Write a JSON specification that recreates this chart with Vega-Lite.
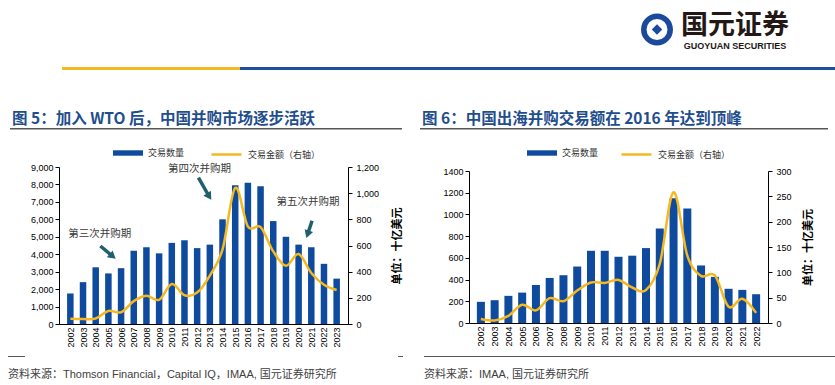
{
  "$schema": "https://vega.github.io/schema/vega-lite/v6.json",
  "padding": 0,
  "background": "white",
  "bounds": "full",
  "spacing": 0,
  "resolve": {"scale": {"fill": "independent", "stroke": "independent"}, "legend": {"fill": "independent", "stroke": "independent"}},
  "config": {
    "view": {"stroke": null},
    "font": "Liberation Sans",
    "axis": {"domainColor": "#000", "tickColor": "#000", "labelColor": "#000", "labelFont": "Liberation Sans", "labelFontSize": 9, "tickSize": 4, "grid": false, "domainWidth": 1, "tickWidth": 1}
  },
  "vconcat": [
    {
      "hconcat": [
        {"width": 637, "height": 67, "data": {"values": []}, "mark": "rule", "encoding": {}},
        {"width": 40, "height": 59, "data": {"values": [{"k": 1}]}, "layer": [
          {"mark": {"type": "point", "shape": "circle", "size": 700, "filled": false, "stroke": "#1B4A9C", "strokeWidth": 5.5, "opacity": 1}, "encoding": {}},
          {"mark": {"type": "point", "shape": "diamond", "size": 110, "filled": true, "color": "#1B4A9C", "opacity": 1}, "encoding": {}}
        ]},
        {"width": 116, "height": 59, "layer": [
          {"data": {"values": [{"t": "国元证券"}]}, "mark": {"type": "text", "font": "Noto Sans CJK SC", "fontSize": 27, "fontWeight": "bold", "color": "#231815", "dy": -3.5, "baseline": "middle", "align": "center"}, "encoding": {"text": {"field": "t"}}},
          {"data": {"values": [{"t": "GUOYUAN SECURITIES"}]}, "mark": {"type": "text", "font": "Liberation Sans", "fontSize": 9, "fontWeight": "bold", "color": "#231815", "dy": 16, "baseline": "middle", "align": "center"}, "encoding": {"text": {"field": "t"}}}
        ]}
      ],
      "bounds": "flush", "spacing": 0
    },
    {
      "hconcat": [
        {"width": 62, "height": 3, "data": {"values": []}, "mark": "rule", "encoding": {}},
        {"width": 178, "height": 3, "data": {"values": []}, "mark": "rule", "encoding": {}, "view": {"fill": "#F2B823"}},
        {"width": 595, "height": 3, "data": {"values": []}, "mark": "rule", "encoding": {}, "view": {"fill": "#1C4F9C"}}
      ],
      "bounds": "flush", "spacing": 0
    },
    {"width": 835, "height": 41, "data": {"values": []}, "mark": "rule", "encoding": {}},
    {
      "hconcat": [
        {"width": 10, "height": 1.5, "data": {"values": []}, "mark": "rule", "encoding": {}},
        {"width": 392, "height": 1.5, "data": {"values": []}, "mark": "rule", "encoding": {}, "view": {"fill": "#555555"},
         "title": {"text": "图 5：加入 WTO 后，中国并购市场逐步活跃", "anchor": "start", "frame": "group", "offset": 1, "dx": 2, "font": "Noto Sans CJK SC", "fontSize": 15.5, "fontWeight": "bold", "color": "#1F4E8D"}},
        {"width": 18, "height": 1.5, "data": {"values": []}, "mark": "rule", "encoding": {}},
        {"width": 408, "height": 1.5, "data": {"values": []}, "mark": "rule", "encoding": {}, "view": {"fill": "#555555"},
         "title": {"text": "图 6：中国出海并购交易额在 2016 年达到顶峰", "anchor": "start", "frame": "group", "offset": 1, "dx": 2, "font": "Noto Sans CJK SC", "fontSize": 15.5, "fontWeight": "bold", "color": "#1F4E8D"}}
      ],
      "bounds": "flush", "spacing": 0
    },
    {"width": 835, "height": 7.5, "data": {"values": []}, "mark": "rule", "encoding": {}},
    {
      "hconcat": [
        {"width": 59, "height": 157, "data": {"values": []}, "mark": "rule", "encoding": {}},
        {
          "width": 289, "height": 157,
          "encoding": {
            "x": {"field": "year", "type": "quantitative", "scale": {"domain": [2001.5, 2023.5], "nice": false, "zero": false},
                  "axis": {"values": [2002,2003,2004,2005,2006,2007,2008,2009,2010,2011,2012,2013,2014,2015,2016,2017,2018,2019,2020,2021,2022,2023], "format": "d", "labelAngle": -90, "labelAlign": "right", "labelBaseline": "middle", "ticks": false, "labelPadding": 3, "title": null, "labelFlush": false, "labelOverlap": false}}
          },
          "layer": [
            {
              "encoding": {"y": {"field": "n", "type": "quantitative", "scale": {"domain": [0, 9000], "nice": false}, "axis": {"values": [0,1000,2000,3000,4000,5000,6000,7000,8000,9000], "format": ",d", "title": null, "labelPadding": 2}}},
              "layer": [
                {
                  "data": {"values": [
                    {"year": 2002, "n": 1750}, {"year": 2003, "n": 2400}, {"year": 2004, "n": 3250}, {"year": 2005, "n": 2900},
                    {"year": 2006, "n": 3200}, {"year": 2007, "n": 4200}, {"year": 2008, "n": 4400}, {"year": 2009, "n": 4050},
                    {"year": 2010, "n": 4650}, {"year": 2011, "n": 4800}, {"year": 2012, "n": 4350}, {"year": 2013, "n": 4550},
                    {"year": 2014, "n": 6000}, {"year": 2015, "n": 7950}, {"year": 2016, "n": 8100}, {"year": 2017, "n": 7900},
                    {"year": 2018, "n": 5900}, {"year": 2019, "n": 5000}, {"year": 2020, "n": 4550}, {"year": 2021, "n": 4400},
                    {"year": 2022, "n": 3450}, {"year": 2023, "n": 2600}
                  ]},
                  "mark": {"type": "bar", "width": 6.5},
                  "encoding": {"fill": {"datum": "交易数量", "type": "nominal", "scale": {"range": ["#0E4A9E"]},
                    "legend": {"orient": "none", "legendX": 54, "legendY": -29, "title": null, "symbolType": "M-1,-0.18H1V0.18H-1Z", "symbolSize": 900, "symbolStrokeWidth": 0, "labelFont": "Noto Sans CJK SC", "labelFontSize": 9, "labelColor": "#333", "labelOffset": 5, "padding": 0}}}
                },
                {
                  "data": {"values": [
                    {"year": 2004.31, "n": 5150, "label": "第三次并购期"},
                    {"year": 2012.18, "n": 8885, "label": "第四次并购期"},
                    {"year": 2020.74, "n": 6976, "label": "第五次并购期"}
                  ]},
                  "mark": {"type": "text", "font": "Noto Sans CJK SC", "fontSize": 10.5, "color": "#3a3a3a", "align": "center", "baseline": "middle"},
                  "encoding": {"text": {"field": "label"}}
                },
                {
                  "data": {"values": [
                    {"year": 2004.37, "n": 4471, "year2": 2005.34, "n2": 3881},
                    {"year": 2012.10, "n": 8387, "year2": 2012.95, "n2": 7309},
                    {"year": 2021.06, "n": 5922, "year2": 2020.71, "n2": 5142}
                  ]},
                  "mark": {"type": "rule", "strokeWidth": 3.5, "color": "#215F70"},
                  "encoding": {"x2": {"field": "year2"}, "y2": {"field": "n2"}}
                },
                {"data": {"values": [{"year": 2005.34, "n": 3881}]}, "mark": {"type": "point", "shape": "triangle-right", "angle": 40.5, "size": 80, "filled": true, "color": "#215F70", "opacity": 1}, "encoding": {}},
                {"data": {"values": [{"year": 2012.95, "n": 7309}]}, "mark": {"type": "point", "shape": "triangle-right", "angle": 57.5, "size": 80, "filled": true, "color": "#215F70", "opacity": 1}, "encoding": {}},
                {"data": {"values": [{"year": 2020.71, "n": 5142}]}, "mark": {"type": "point", "shape": "triangle-right", "angle": 109, "size": 80, "filled": true, "color": "#215F70", "opacity": 1}, "encoding": {}}
              ]
            },
            {
              "data": {"values": [
                {"year": 2002, "amt": 40}, {"year": 2003, "amt": 38}, {"year": 2004, "amt": 42}, {"year": 2005, "amt": 100},
                {"year": 2006, "amt": 90}, {"year": 2007, "amt": 175}, {"year": 2008, "amt": 215}, {"year": 2009, "amt": 185},
                {"year": 2010, "amt": 305}, {"year": 2011, "amt": 220}, {"year": 2012, "amt": 240}, {"year": 2013, "amt": 370},
                {"year": 2014, "amt": 570}, {"year": 2015, "amt": 1040}, {"year": 2016, "amt": 745}, {"year": 2017, "amt": 740},
                {"year": 2018, "amt": 555}, {"year": 2019, "amt": 445}, {"year": 2020, "amt": 535}, {"year": 2021, "amt": 390},
                {"year": 2022, "amt": 300}, {"year": 2023, "amt": 260}
              ]},
              "mark": {"type": "line", "interpolate": "cardinal", "strokeWidth": 2.5},
              "encoding": {
                "y": {"field": "amt", "type": "quantitative", "scale": {"domain": [0, 1200], "nice": false},
                      "axis": {"orient": "right", "values": [0,200,400,600,800,1000,1200], "format": ",d", "title": "单位：十亿美元", "titleAngle": 270, "titleFont": "Noto Sans CJK SC", "titleFontWeight": "bold", "titleFontSize": 11, "titleColor": "#000", "titlePadding": 24, "labelPadding": 4}},
                "stroke": {"datum": "交易金额（右轴）", "type": "nominal", "scale": {"range": ["#F5B81F"]},
                  "legend": {"orient": "none", "legendX": 151, "legendY": -29, "title": null, "symbolType": "stroke", "symbolSize": 900, "symbolStrokeWidth": 2.5, "labelFont": "Noto Sans CJK SC", "labelFontSize": 9, "labelColor": "#333", "labelOffset": 5, "padding": 0}}
              }
            }
          ],
          "resolve": {"scale": {"y": "independent"}}
        },
        {"width": 121, "height": 157, "data": {"values": []}, "mark": "rule", "encoding": {}},
        {
          "vconcat": [
            {"width": 299, "height": 4, "data": {"values": []}, "mark": "rule", "encoding": {}},
            {
              "width": 299, "height": 152,
              "data": {"values": [
                {"year": 2002, "n": 195, "amt": 8}, {"year": 2003, "n": 210, "amt": 5}, {"year": 2004, "n": 250, "amt": 14},
                {"year": 2005, "n": 280, "amt": 36}, {"year": 2006, "n": 350, "amt": 25}, {"year": 2007, "n": 415, "amt": 49},
                {"year": 2008, "n": 440, "amt": 43}, {"year": 2009, "n": 520, "amt": 64}, {"year": 2010, "n": 665, "amt": 80},
                {"year": 2011, "n": 665, "amt": 79}, {"year": 2012, "n": 610, "amt": 85}, {"year": 2013, "n": 620, "amt": 70},
                {"year": 2014, "n": 690, "amt": 65}, {"year": 2015, "n": 870, "amt": 117}, {"year": 2016, "n": 1150, "amt": 258},
                {"year": 2017, "n": 1055, "amt": 133}, {"year": 2018, "n": 530, "amt": 93}, {"year": 2019, "n": 425, "amt": 94},
                {"year": 2020, "n": 315, "amt": 32}, {"year": 2021, "n": 305, "amt": 48}, {"year": 2022, "n": 265, "amt": 20}
              ]},
              "encoding": {
                "x": {"field": "year", "type": "quantitative", "scale": {"domain": [2001.5, 2022.5], "nice": false, "zero": false},
                      "axis": {"values": [2002,2003,2004,2005,2006,2007,2008,2009,2010,2011,2012,2013,2014,2015,2016,2017,2018,2019,2020,2021,2022], "format": "d", "labelAngle": -90, "labelAlign": "right", "labelBaseline": "middle", "ticks": false, "labelPadding": 3, "title": null, "labelFlush": false, "labelOverlap": false}}
              },
              "layer": [
                {
                  "mark": {"type": "bar", "width": 8},
                  "encoding": {
                    "y": {"field": "n", "type": "quantitative", "scale": {"domain": [0, 1400], "nice": false}, "axis": {"values": [0,200,400,600,800,1000,1200,1400], "format": "d", "title": null, "labelPadding": 2}},
                    "fill": {"datum": "交易数量", "type": "nominal", "scale": {"range": ["#0E4A9E"]},
                      "legend": {"orient": "none", "legendX": 58, "legendY": -33, "title": null, "symbolType": "M-1,-0.18H1V0.18H-1Z", "symbolSize": 900, "symbolStrokeWidth": 0, "labelFont": "Noto Sans CJK SC", "labelFontSize": 9, "labelColor": "#333", "labelOffset": 5, "padding": 0}}
                  }
                },
                {
                  "mark": {"type": "line", "interpolate": "cardinal", "strokeWidth": 2.5},
                  "encoding": {
                    "y": {"field": "amt", "type": "quantitative", "scale": {"domain": [0, 300], "nice": false},
                          "axis": {"orient": "right", "values": [0,50,100,150,200,250,300], "format": "d", "title": "单位：十亿美元", "titleAngle": 270, "titleFont": "Noto Sans CJK SC", "titleFontWeight": "bold", "titleFontSize": 11, "titleColor": "#000", "titlePadding": 22, "labelPadding": 4}},
                    "stroke": {"datum": "交易金额（右轴）", "type": "nominal", "scale": {"range": ["#F5B81F"]},
                      "legend": {"orient": "none", "legendX": 151, "legendY": -33, "title": null, "symbolType": "stroke", "symbolSize": 900, "symbolStrokeWidth": 2.5, "labelFont": "Noto Sans CJK SC", "labelFontSize": 9, "labelColor": "#333", "labelOffset": 5, "padding": 0}}
                  }
                }
              ],
              "resolve": {"scale": {"y": "independent"}}
            }
          ],
          "bounds": "flush", "spacing": 0,
          "resolve": {"scale": {"fill": "independent", "stroke": "independent"}, "legend": {"fill": "independent", "stroke": "independent"}}
        }
      ],
      "bounds": "flush", "spacing": 0,
      "resolve": {"scale": {"fill": "independent", "stroke": "independent"}, "legend": {"fill": "independent", "stroke": "independent"}}
    },
    {"width": 835, "height": 8, "data": {"values": []}, "mark": "rule", "encoding": {}},
    {
      "hconcat": [
        {"width": 8, "height": 1, "data": {"values": []}, "mark": "rule", "encoding": {}},
        {"width": 17, "height": 1, "data": {"values": []}, "mark": "rule", "encoding": {}, "view": {"fill": "#555555"},
         "title": {"text": "资料来源：Thomson Financial，Capital IQ，IMAA, 国元证券研究所", "orient": "bottom", "anchor": "start", "frame": "group", "offset": 12, "font": "Liberation Sans, Noto Sans CJK SC", "fontSize": 11, "fontWeight": "normal", "color": "#404040"}},
        {"width": 373, "height": 1, "data": {"values": []}, "mark": "rule", "encoding": {}},
        {"width": 5, "height": 1, "data": {"values": []}, "mark": "rule", "encoding": {}, "view": {"fill": "#555555"}},
        {"width": 21, "height": 1, "data": {"values": []}, "mark": "rule", "encoding": {}},
        {"width": 411, "height": 1, "data": {"values": []}, "mark": "rule", "encoding": {}, "view": {"fill": "#555555"},
         "title": {"text": "资料来源：IMAA, 国元证券研究所", "orient": "bottom", "anchor": "start", "frame": "group", "offset": 12, "font": "Liberation Sans, Noto Sans CJK SC", "fontSize": 11, "fontWeight": "normal", "color": "#404040"}}
      ],
      "bounds": "flush", "spacing": 0
    }
  ]
}
